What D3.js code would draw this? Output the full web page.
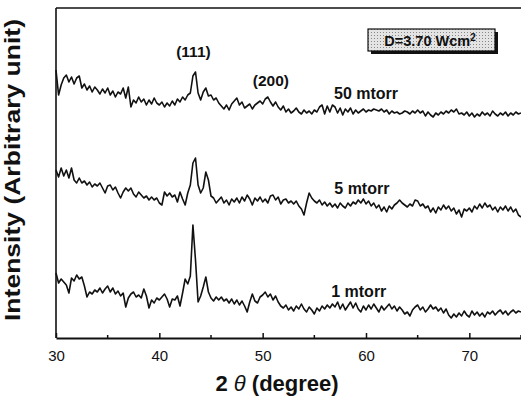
<!DOCTYPE html>
<html>
<head>
<meta charset="utf-8">
<script src="https://cdn.jsdelivr.net/npm/d3@7"></script>
<style>
  body { margin: 0; background: #fff; }
  svg { display: block; }
</style>
</head>
<body>
<div id="chart"></div>
<script>
// 2-theta grid: 30 to 75 degrees, 0.25 degree step
var twoTheta = d3.range(0, 181).map(function (i) { return 30 + i * 0.25; });

var xTicks = [30, 40, 50, 60, 70];
var xMinorTicks = [35, 45, 55, 65, 75];

// intensities (arbitrary units)
var mtorr50 = [
  268, 243, 253, 260, 263, 256, 261, 254, 260, 262, 250, 254, 248, 252, 246, 251, 248, 244, 249, 245,
  250, 243, 247, 241, 246, 244, 250, 240, 251, 231, 238, 235, 241, 236, 239, 233, 238, 234, 240, 235,
  233, 236, 231, 235, 232, 237, 233, 239, 236, 241, 238, 243, 245, 262, 266, 245, 238, 246, 250, 242,
  243, 238, 240, 235, 232, 229, 233, 228, 234, 237, 240, 233, 236, 230, 232, 234, 229, 233, 235, 237,
  234, 239, 241, 236, 232, 236, 231, 228, 232, 226, 229, 225, 227, 230, 226, 224, 228, 225, 227, 224,
  228, 226, 231, 233, 224, 232, 226, 233, 231, 225, 230, 223, 229, 226, 230, 224, 228, 225, 227, 229,
  226, 228, 227, 229, 228, 227, 229, 226, 228, 224, 227, 225, 226, 224, 225, 227, 226, 224, 227, 225,
  228, 225, 227, 222, 226, 223, 221, 225, 223, 226, 224, 227, 225, 228, 226, 229, 224, 225, 223, 226,
  222, 225, 221, 224, 222, 226, 223, 225, 222, 227, 224, 222, 225, 223, 226, 222, 225, 223, 226, 224,
  225
];

var mtorr5 = [
  168, 161, 170, 162, 168, 160, 170, 158, 155, 160, 155, 157, 153, 156, 151, 154, 152, 155, 150, 145,
  152, 153, 148, 151, 145, 140, 146, 150, 147, 150, 144, 141, 146, 143, 140, 142, 138, 141, 138, 140,
  135, 133, 146, 142, 145, 141, 143, 136, 146, 139, 133, 145, 153, 175, 180, 153, 145, 150, 166, 158,
  142, 140, 135, 138, 141, 135, 138, 133, 139, 136, 140, 135, 141, 137, 143, 139, 133, 140, 137, 141,
  136, 139, 135, 142, 143, 138, 141, 134, 138, 139, 135, 137, 134, 137, 132, 129, 123, 135, 145, 140,
  137, 135, 138, 133, 136, 132, 135, 131, 134, 130, 135, 132, 130, 135, 132, 136, 134, 138, 135, 139,
  134, 137, 132, 135, 130, 133, 127, 131, 126, 132, 129, 133, 135, 138, 135, 133, 131, 134, 132, 138,
  137, 132, 134, 130, 132, 126, 130, 125, 131, 128, 133, 129, 132, 127, 130, 124, 128, 121, 129, 127,
  130, 126, 132, 129, 134, 130, 135, 131, 133, 128, 131, 126, 131, 128, 132, 127, 131, 126, 129, 123,
  121
];

var mtorr1 = [
  65, 55, 59, 56, 53, 45, 60, 57, 63, 59, 61, 52, 41, 46, 44, 48, 46, 50, 45, 49,
  52, 46, 50, 44, 47, 42, 45, 31, 40, 44, 46, 41, 43, 40, 49, 42, 30, 38, 35, 40,
  38, 41, 44, 39, 31, 39, 38, 42, 32, 45, 59, 54, 62, 113, 78, 36, 42, 51, 61, 46,
  40, 37, 41, 38, 41, 37, 39, 35, 39, 34, 38, 33, 37, 32, 26, 36, 44, 37, 35, 41,
  43, 46, 41, 44, 38, 42, 36, 32, 30, 33, 28, 31, 27, 32, 29, 34, 29, 26, 31, 28,
  24, 30, 27, 32, 29, 33, 30, 34, 31, 36, 29, 34, 28, 32, 36, 30, 35, 29, 26, 32,
  28, 33, 29, 34, 30, 26, 32, 28, 31, 34, 29, 32, 27, 31, 28, 24, 26, 22, 28, 31,
  33, 28, 31, 26, 29, 33, 29, 31, 27, 30, 25, 29, 23, 20, 24, 21, 25, 22, 27, 23,
  21, 27, 23, 26, 22, 25, 21, 26, 24, 27, 23, 26, 28, 24, 27, 23, 26, 28, 25, 27,
  26
];

var seriesNames = ["50 mtorr", "5 mtorr", "1 mtorr"];
var seriesValues = [mtorr50, mtorr5, mtorr1];

var margin = {top: 8, right: 0, bottom: 65, left: 56},
    width = 521 - margin.left - margin.right,
    height = 403 - margin.top - margin.bottom;

var svg = d3.select("#chart")
    .append("svg")
    .attr("width", 521)
    .attr("height", 403)
    .append("g")
    .attr("transform", "translate(" + margin.left + "," + margin.top + ")");

var x = d3.scaleLinear().domain([30, 75]).range([0, width]);
var y = d3.scaleLinear().domain([0, 330]).range([height, 0]);

// frame: left and top spines
svg.append("line")
    .attr("x1", 0).attr("x2", 0).attr("y1", 0).attr("y2", height)
    .attr("stroke", "#111").attr("stroke-width", 1.6);
svg.append("line")
    .attr("x1", 0).attr("x2", width).attr("y1", 0).attr("y2", 0)
    .attr("stroke", "#111").attr("stroke-width", 1.4);

// bottom axis, ticks pointing inward
var xAxis = svg.append("g")
    .attr("transform", "translate(0," + height + ")")
    .call(d3.axisBottom(x).tickValues(xTicks).tickSizeInner(-5).tickSizeOuter(0).tickPadding(12));
xAxis.select(".domain").attr("stroke", "#111").attr("stroke-width", 2);
xAxis.selectAll(".tick line").attr("stroke", "#111").attr("stroke-width", 1.5);
xAxis.selectAll(".tick text")
    .attr("font-family", "Liberation Sans, Arial, sans-serif")
    .attr("font-size", 15)
    .attr("fill", "#111");

svg.append("g")
    .selectAll("line")
    .data(xMinorTicks)
    .enter()
    .append("line")
    .attr("x1", function (d) { return x(d); })
    .attr("x2", function (d) { return x(d); })
    .attr("y1", height)
    .attr("y2", height - 3)
    .attr("stroke", "#111")
    .attr("stroke-width", 1.5);

// patterns
var line = d3.line()
    .x(function (d, i) { return x(twoTheta[i]); })
    .y(function (d) { return y(d); });

svg.append("g")
    .selectAll("path")
    .data(seriesValues)
    .enter()
    .append("path")
    .attr("d", line)
    .attr("fill", "none")
    .attr("stroke", "#111")
    .attr("stroke-width", 1.6)
    .attr("stroke-linejoin", "round");

// labels on the curves
var labelFont = "Liberation Sans, Arial, sans-serif";
var curveLabels = [
    {text: seriesNames[0], t: 60.0, v: 243, size: 16},
    {text: seriesNames[1], t: 59.6, v: 148, size: 16},
    {text: seriesNames[2], t: 59.3, v: 45, size: 16},
    {text: "(111)", t: 43.3, v: 285, size: 15.5},
    {text: "(200)", t: 50.8, v: 256, size: 15.5}
];
svg.append("g")
    .selectAll("text")
    .data(curveLabels)
    .enter()
    .append("text")
    .attr("x", function (d) { return x(d.t); })
    .attr("y", function (d) { return y(d.v); })
    .attr("text-anchor", "middle")
    .attr("dominant-baseline", "middle")
    .attr("font-family", labelFont)
    .attr("font-weight", "bold")
    .attr("font-size", function (d) { return d.size; })
    .attr("fill", "#111")
    .text(function (d) { return d.text; });

// power density box
var defs = d3.select("svg").append("defs");
var pat = defs.append("pattern")
    .attr("id", "dots")
    .attr("width", 3).attr("height", 3)
    .attr("patternUnits", "userSpaceOnUse");
pat.append("rect").attr("width", 3).attr("height", 3).attr("fill", "#e4e4e4");
pat.append("rect").attr("width", 1).attr("height", 1).attr("fill", "#888");

var box = svg.append("g").attr("transform", "translate(312,21)");
box.append("rect")
    .attr("x", 3).attr("y", 3).attr("width", 127).attr("height", 22)
    .attr("fill", "#111");
box.append("rect")
    .attr("x", 0).attr("y", 0).attr("width", 127).attr("height", 22)
    .attr("fill", "url(#dots)")
    .attr("stroke", "#111")
    .attr("stroke-width", 1.2);
var boxText = box.append("text")
    .attr("x", 62).attr("y", 16.5)
    .attr("text-anchor", "middle")
    .attr("font-family", labelFont)
    .attr("font-weight", "bold")
    .attr("font-size", 14.5)
    .attr("fill", "#111")
    .text("D=3.70 Wcm");
boxText.append("tspan")
    .attr("dy", -5)
    .attr("font-size", 10)
    .text("2");

// axis titles
var xTitle = svg.append("text")
    .attr("x", 221)
    .attr("y", height + 53)
    .attr("text-anchor", "middle")
    .attr("font-family", labelFont)
    .attr("font-weight", "bold")
    .attr("font-size", 22)
    .attr("fill", "#111");
xTitle.append("tspan").text("2 ");
xTitle.append("tspan").attr("font-style", "italic").attr("font-weight", "normal").text("\u03b8");
xTitle.append("tspan").text(" (degree)");

svg.append("text")
    .attr("transform", "translate(" + (-36) + "," + 162 + ") rotate(-90)")
    .attr("text-anchor", "middle")
    .attr("font-family", labelFont)
    .attr("font-weight", "bold")
    .attr("font-size", 22)
    .attr("textLength", 302)
    .attr("lengthAdjust", "spacingAndGlyphs")
    .attr("fill", "#111")
    .text("Intensity (Arbitrary unit)");
</script>
</body>
</html>
